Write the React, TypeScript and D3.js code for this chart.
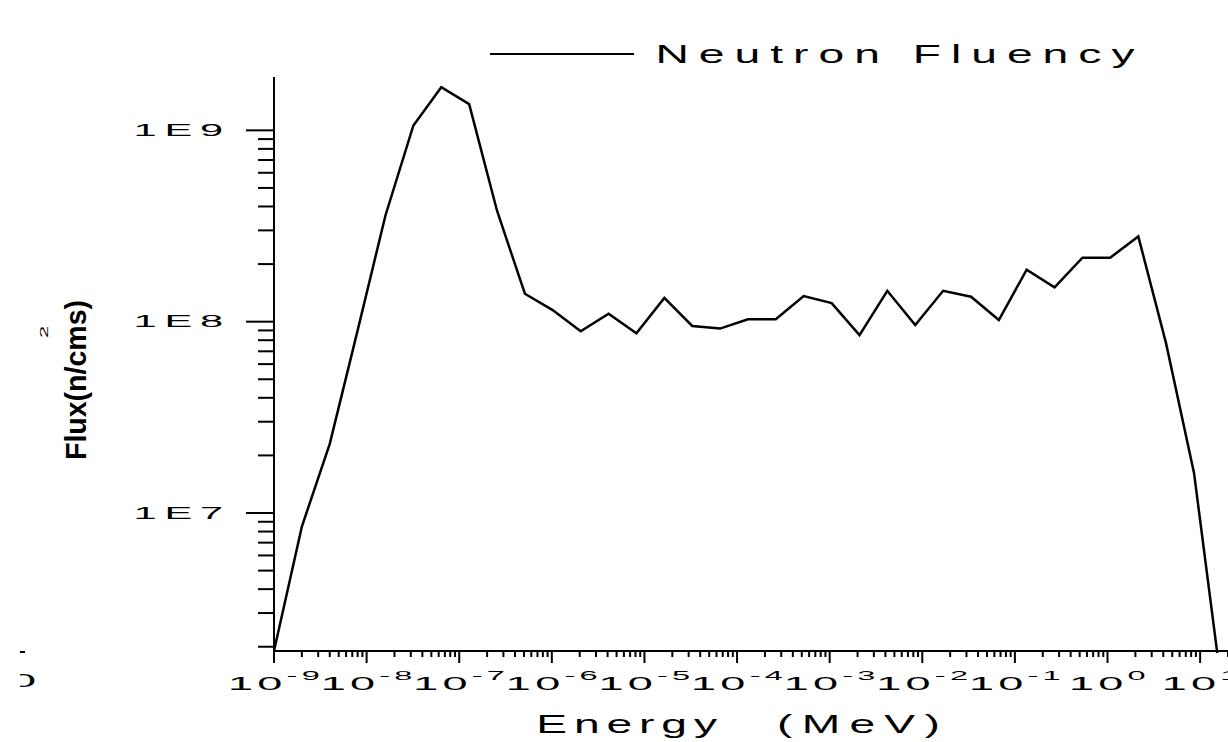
import React from "react";
import * as d3 from "d3";

// neutron spectrum, energy bins in MeV (factor 2 steps)
const ENERGY = [
  1e-9, 2e-9, 4e-9, 8e-9, 1.6e-8, 3.2e-8, 6.4e-8, 1.28e-7, 2.56e-7, 5.12e-7,
  1.02e-6, 2.05e-6, 4.1e-6, 8.19e-6, 1.64e-5, 3.28e-5, 6.55e-5, 1.31e-4, 2.62e-4, 5.24e-4,
  1.05e-3, 2.1e-3, 4.19e-3, 8.39e-3, 1.68e-2, 3.36e-2, 6.71e-2, 0.134, 0.268, 0.537,
  1.07, 2.15, 4.29, 8.59, 17.2,
];
const FLUX = [
  1.9e6, 8.5e6, 2.3e7, 9.0e7, 3.6e8, 1.06e9, 1.68e9, 1.37e9, 3.8e8, 1.4e8,
  1.15e8, 8.9e7, 1.1e8, 8.7e7, 1.33e8, 9.5e7, 9.2e7, 1.03e8, 1.03e8, 1.36e8,
  1.25e8, 8.5e7, 1.45e8, 9.6e7, 1.45e8, 1.35e8, 1.02e8, 1.87e8, 1.51e8, 2.16e8,
  2.16e8, 2.79e8, 7.7e7, 1.62e7, 1.2e6,
];

const X_DECADES = [1e-9, 1e-8, 1e-7, 1e-6, 1e-5, 1e-4, 1e-3, 1e-2, 1e-1, 1e0, 1e1];
const X_EXPONENTS = ["-9", "-8", "-7", "-6", "-5", "-4", "-3", "-2", "-1", "0", "1"];
const Y_DECADES = [1e6, 1e7, 1e8, 1e9];
const Y_LABELS = ["1E6", "1E7", "1E8", "1E9"];
const MINOR = [2, 3, 4, 5, 6, 7, 8, 9];

const FONT = "'Liberation Sans', Arial, Helvetica, sans-serif";

export default function App() {
  const x = d3.scaleLog().domain([1e-9, 20]).range([274, 1228]);
  const y = d3.scaleLog().domain([1.9e6, 1.9e9]).range([651, 77]);
  const [y0, y1] = y.domain();
  const [x0, x1] = x.domain();

  const line = d3
    .line<number>()
    .x((d, i) => x(ENERGY[i]))
    .y((d) => y(d));

  const yMinor: number[] = [];
  Y_DECADES.forEach((d) => MINOR.forEach((m) => {
    const v = d * m;
    if (v >= y0 * 0.999 && v <= y1) yMinor.push(v);
  }));
  const xMinor: number[] = [];
  X_DECADES.forEach((d) => MINOR.forEach((m) => {
    const v = d * m;
    if (v >= x0 && v <= x1 * 1.001) xMinor.push(v);
  }));

  const axisBottom = y.range()[0];
  const axisLeft = x.range()[0];

  return (
    <svg
      width={1228}
      height={742}
      style={{ position: "absolute", left: 0, top: 0, background: "#fff" }}
      fontFamily={FONT}
    >
      <defs>
        <clipPath id="plot">
          <rect x={axisLeft} y={70} width={1228 - axisLeft} height={axisBottom + 2 - 70} />
        </clipPath>
        <clipPath id="stray">
          <rect x={20} y={600} width={60} height={140} />
        </clipPath>
      </defs>

      {/* legend */}
      <line x1={490} x2={634} y1={54} y2={54} stroke="#000" strokeWidth={2} />
      <text transform="translate(655.5,63) scale(1.85,1)" fontSize={25} letterSpacing={5.4} fill="#000">
        Neutron Fluency
      </text>

      {/* y axis */}
      <line x1={axisLeft} x2={axisLeft} y1={y.range()[1]} y2={axisBottom + 12} stroke="#000" strokeWidth={2} />
      {Y_DECADES.filter((v) => v >= y0 && v <= y1).map((v) => (
        <g key={v}>
          <line x1={axisLeft - 28} x2={axisLeft} y1={y(v)} y2={y(v)} stroke="#000" strokeWidth={2} />
          <text
            transform={`translate(231,${y(v) + 5.7}) scale(2.6,1)`}
            textAnchor="end"
            fontSize={16}
            letterSpacing={3}
            fill="#000"
          >
            {Y_LABELS[Y_DECADES.indexOf(v)]}
          </text>
        </g>
      ))}
      {yMinor.map((v) => (
        <line key={v} x1={axisLeft - 16} x2={axisLeft} y1={y(v)} y2={y(v)} stroke="#000" strokeWidth={2} />
      ))}

      {/* x axis */}
      <line x1={axisLeft} x2={1228} y1={axisBottom} y2={axisBottom} stroke="#000" strokeWidth={2} />
      {X_DECADES.map((v, i) => (
        <g key={v}>
          <line x1={x(v)} x2={x(v)} y1={axisBottom} y2={axisBottom + 12} stroke="#000" strokeWidth={2} />
          <text
            transform={`translate(${x(v) + 2},690) scale(2.5,1)`}
            textAnchor="middle"
            fontSize={18}
            letterSpacing={1.7}
            fill="#000"
          >
            <tspan>10</tspan>
            <tspan fontSize={13} dy={-10}>{X_EXPONENTS[i]}</tspan>
          </text>
        </g>
      ))}
      {xMinor.map((v) => (
        <line key={v} x1={x(v)} x2={x(v)} y1={axisBottom} y2={axisBottom + 6} stroke="#000" strokeWidth={2} />
      ))}

      {/* axis titles */}
      <text transform="translate(536.3,733) scale(1.85,1)" fontSize={25} letterSpacing={3.7} fill="#000">
        Energy
      </text>
      <text transform="translate(777,733) scale(1.85,1)" fontSize={25} letterSpacing={5} fill="#000">
        (MeV)
      </text>
      <text
        transform="translate(86,460) rotate(-90)"
        fontSize={29}
        fontWeight="bold"
        textLength={160}
        lengthAdjust="spacingAndGlyphs"
        fill="#000"
      >
        Flux(n/cms)
      </text>
      <text transform="translate(48,332) rotate(-90) scale(2.2,1)" fontSize={10} textAnchor="middle" fill="#000">
        2
      </text>

      {/* cut-off fragment from neighbouring panel */}
      <g clipPath="url(#stray)">
        <line x1={20} x2={25} y1={652} y2={652} stroke="#000" strokeWidth={2} />
        <text transform="translate(23,687) scale(2.5,1)" textAnchor="middle" fontSize={19} fill="#000">
          0
        </text>
      </g>

      {/* data */}
      <path
        d={line(FLUX) || ""}
        fill="none"
        stroke="#000"
        strokeWidth={2.5}
        strokeLinejoin="miter"
        clipPath="url(#plot)"
      />
    </svg>
  );
}
